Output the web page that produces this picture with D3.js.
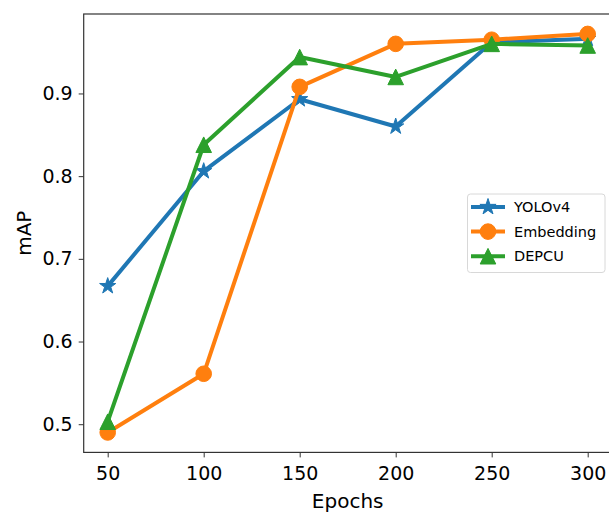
<!DOCTYPE html>
<html>
<head>
<meta charset="utf-8">
<script src="https://cdn.jsdelivr.net/npm/d3@7"></script>
<style>
  html, body { margin: 0; padding: 0; background: #fff; }
  svg { display: block; }
  text { font-family: "DejaVu Sans", sans-serif; fill: #000; }
</style>
</head>
<body>
<svg id="chart" width="609" height="512"></svg>
<script>
const epochs = [50, 100, 150, 200, 250, 300];
const yolov4 = [0.667, 0.806, 0.893, 0.860, 0.962, 0.966];
const embedding = [0.490, 0.561, 0.908, 0.960, 0.965, 0.972];
const depcu = [0.503, 0.838, 0.944, 0.920, 0.960, 0.958];
const seriesNames = ["YOLOv4", "Embedding", "DEPCU"];
const seriesColors = ["#1f77b4", "#ff7f0e", "#2ca02c"];
const seriesMarkers = ["star", "circle", "triangle"];
const yTicks = [0.5, 0.6, 0.7, 0.8, 0.9];
const xTicks = [50, 100, 150, 200, 250, 300];

const series = [yolov4, embedding, depcu].map((vals, i) => ({
  name: seriesNames[i], color: seriesColors[i], marker: seriesMarkers[i], values: vals
}));

const svg = d3.select("#chart");
const pLeft = 83.7, pRight = 611.7, pTop = 14, pBottom = 452.4;

const xMin = d3.min(epochs), xMax = d3.max(epochs);
const xPad = (xMax - xMin) * 0.05;
const x = d3.scaleLinear().domain([xMin - xPad, xMax + xPad]).range([pLeft, pRight]);
const all = series.flatMap(s => s.values);
const yMin = d3.min(all), yMax = d3.max(all);
const yPad = (yMax - yMin) * 0.05;
const y = d3.scaleLinear().domain([yMin - yPad, yMax + yPad]).range([pBottom, pTop]);

// axes
const xAxis = d3.axisBottom(x).tickValues(xTicks).tickSize(5).tickPadding(8).tickFormat(d3.format("d"));
const gx = svg.append("g").attr("transform", `translate(0,${pBottom})`).call(xAxis);
gx.select(".domain").remove();
gx.selectAll(".tick line").attr("stroke", "#333").attr("stroke-width", 1);
gx.selectAll(".tick text").attr("font-size", 19).attr("fill", "#222")
  .attr("font-family", "DejaVu Sans, sans-serif").attr("dy", "0.75em");

const yAxis = d3.axisLeft(y).tickValues(yTicks).tickSize(5).tickPadding(6).tickFormat(d3.format(".1f"));
const gy = svg.append("g").attr("transform", `translate(${pLeft},0)`).call(yAxis);
gy.select(".domain").remove();
gy.selectAll(".tick line").attr("stroke", "#333").attr("stroke-width", 1);
gy.selectAll(".tick text").attr("font-size", 19).attr("fill", "#222")
  .attr("font-family", "DejaVu Sans, sans-serif");

// frame
svg.append("rect").attr("x", pLeft).attr("y", pTop).attr("width", pRight - pLeft).attr("height", pBottom - pTop)
  .attr("fill", "none").attr("stroke", "#333").attr("stroke-width", 1.2);

// labels
svg.append("text").attr("x", (pLeft + pRight) / 2).attr("y", 507.5).attr("text-anchor", "middle")
  .attr("font-size", 20).attr("fill", "#222").text("Epochs");
svg.append("text").attr("transform", `translate(30.5,${(pTop + pBottom) / 2}) rotate(-90)`)
  .attr("text-anchor", "middle").attr("font-size", 20).attr("fill", "#222").text("mAP");

function markerPath(type, R) {
  if (type === "circle") {
    return `M${R},0A${R},${R} 0 1,1 ${-R},0A${R},${R} 0 1,1 ${R},0Z`;
  }
  if (type === "triangle") {
    return `M0,${-R}L${R},${R}L${-R},${R}Z`;
  }
  // star
  const r = R * 0.381966;
  let p = "";
  for (let k = 0; k < 10; k++) {
    const rad = k % 2 === 0 ? R : r;
    const a = -Math.PI / 2 + k * Math.PI / 5;
    p += (k === 0 ? "M" : "L") + (rad * Math.cos(a)).toFixed(2) + "," + (rad * Math.sin(a)).toFixed(2);
  }
  return p + "Z";
}
const markerSize = { circle: 7.8, triangle: 7.8, star: 8.5 };

const line = d3.line().x((d, i) => x(epochs[i])).y(d => y(d));
const plot = svg.append("g");
series.forEach(s => {
  const g = plot.append("g");
  g.append("path").attr("d", line(s.values)).attr("fill", "none")
    .attr("stroke", s.color).attr("stroke-width", 4).attr("stroke-linejoin", "round").attr("stroke-linecap", "square");
  g.selectAll("path.m").data(s.values).join("path").attr("class", "m")
    .attr("transform", (d, i) => `translate(${x(epochs[i])},${y(d)})`)
    .attr("d", markerPath(s.marker, markerSize[s.marker]))
    .attr("fill", s.color).attr("stroke", s.color).attr("stroke-width", 1);
});

// legend
const lg = svg.append("g");
lg.append("rect").attr("x", 467.5).attr("y", 194).attr("width", 137.5).attr("height", 78.5).attr("rx", 3)
  .attr("fill", "#fff").attr("fill-opacity", 0.8).attr("stroke", "#d8d8d8").attr("stroke-width", 1);
series.forEach((s, i) => {
  const cy = 207 + i * 24.6;
  lg.append("line").attr("x1", 471).attr("x2", 505).attr("y1", cy).attr("y2", cy)
    .attr("stroke", s.color).attr("stroke-width", 4);
  lg.append("path").attr("transform", `translate(488,${cy})`)
    .attr("d", markerPath(s.marker, markerSize[s.marker]))
    .attr("fill", s.color).attr("stroke", s.color).attr("stroke-width", 1);
  lg.append("text").attr("x", 514).attr("y", cy).attr("dy", "0.36em")
    .attr("font-size", 14.5).attr("fill", "#222").text(s.name);
});
</script>
</body>
</html>
